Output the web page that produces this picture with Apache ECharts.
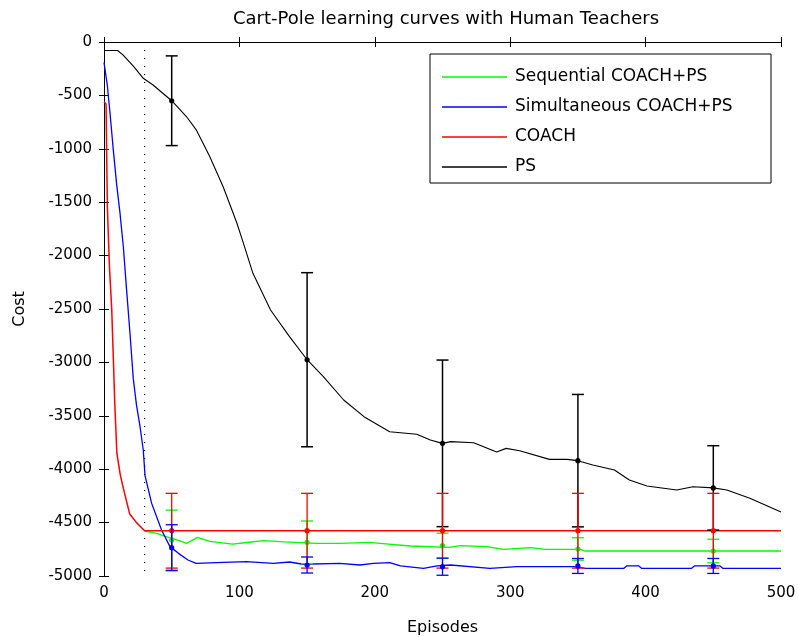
<!DOCTYPE html>
<html>
<head>
<meta charset="utf-8">
<script src="https://cdn.jsdelivr.net/npm/echarts@6/dist/echarts.min.js"></script>
<style>html,body{margin:0;padding:0;background:#fff;}#c{width:798px;height:637px;}</style>
</head>
<body>
<div id="c"></div>
<script>
const xTicks = [0, 100, 200, 300, 400, 500];
const yTicks = [-5000, -4500, -4000, -3500, -3000, -2500, -2000, -1500, -1000, -500, 0];

const psCurve = [[0,-80],[10,-80],[14,-120],[22,-230],[29,-340],[36,-400],[50,-550],[61,-700],[68,-820],[78,-1070],[88,-1355],[98,-1690],[103,-1885],[110,-2166],[123,-2509],[137,-2759],[150,-2975],[162,-3134],[177,-3352],[192,-3508],[211,-3649],[231,-3673],[241,-3727],[250,-3758],[256,-3742],[273,-3752],[290,-3840],[297,-3805],[307,-3827],[329,-3908],[342,-3908],[350,-3920],[361,-3960],[377,-4007],[388,-4101],[401,-4157],[423,-4195],[435,-4164],[450,-4175],[460,-4195],[477,-4272],[500,-4400]];

const coachCurve = [[0,-560],[1.5,-580],[2.5,-1550],[4,-2100],[5.7,-2500],[7,-3000],[8,-3400],[9.5,-3850],[12,-4050],[14.3,-4180],[19,-4420],[24,-4500],[30,-4576],[500,-4576]];

const simCurve = [[0,-190],[2.4,-400],[4.4,-660],[6.9,-1015],[9.4,-1340],[11.8,-1600],[14.3,-1920],[16.8,-2340],[19.2,-2730],[21.6,-3150],[24,-3400],[26.6,-3600],[29,-3820],[30.3,-4060],[35.2,-4320],[42.5,-4569],[48.7,-4725],[55,-4788],[62,-4850],[68,-4881],[83,-4875],[105,-4866],[125,-4881],[137,-4869],[147,-4890],[174,-4881],[189,-4897],[199,-4881],[211,-4875],[219,-4906],[236,-4928],[246,-4906],[256,-4897],[285,-4928],[305,-4913],[347,-4913],[356,-4928],[384,-4928],[386,-4906],[395,-4906],[397,-4928],[434,-4928],[436,-4906],[455,-4906],[457,-4928],[500,-4928]];

const seqCurve = [[30,-4579],[39,-4600],[44,-4625],[51,-4650],[56,-4672],[61,-4694],[69,-4638],[78,-4675],[95,-4702],[107,-4684],[118,-4669],[133,-4680],[157,-4694],[174,-4694],[196,-4685],[204,-4694],[226,-4719],[255,-4732],[263,-4716],[283,-4725],[295,-4750],[315,-4735],[326,-4750],[352,-4750],[355,-4766],[500,-4766]];

const errX = [50, 150, 250, 350, 450];
const psMean = [-550, -2975, -3758, -3920, -4175];
const psErr = [420, 815, 780, 620, 395];
const coachMean = [-4576, -4576, -4576, -4576, -4576];
const coachErr = [350, 350, 350, 350, 350];
const seqMean = [-4663, -4685, -4716, -4747, -4766];
const seqErr = [280, 200, 117, 105, 110];
const simMean = [-4735, -4897, -4913, -4906, -4906];
const simErr = [215, 75, 80, 70, 70];

const switchX = [30];

const names = ['Sequential COACH+PS', 'Simultaneous COACH+PS', 'COACH', 'PS'];
const colors = ['#00ff00', '#0000ff', '#ff0000', '#000000'];

const FONT = 'DejaVu Sans';

function errSeries(color, mean, err, z, lw) {
  return {
    type: 'custom',
    z: z,
    silent: true,
    renderItem: function (params, api) {
      const x = api.value(0), m = api.value(1), e = api.value(2);
      const t = api.coord([x, m + e]);
      const b = api.coord([x, m - e]);
      const c = api.coord([x, m]);
      const hw = 6;
      const st = { stroke: color, lineWidth: lw };
      return {
        type: 'group',
        children: [
          { type: 'line', shape: { x1: t[0], y1: t[1], x2: b[0], y2: b[1] }, style: st },
          { type: 'line', shape: { x1: t[0] - hw, y1: t[1], x2: t[0] + hw, y2: t[1] }, style: st },
          { type: 'line', shape: { x1: b[0] - hw, y1: b[1], x2: b[0] + hw, y2: b[1] }, style: st },
          { type: 'circle', shape: { cx: c[0], cy: c[1], r: 2.6 }, style: { fill: color } }
        ]
      };
    },
    data: errX.map((x, i) => [x, mean[i], err[i]])
  };
}

function lineSeries(name, color, data, z, w) {
  return {
    type: 'line', name: name, data: data, symbol: 'none', z: z,
    lineStyle: { color: color, width: w }, itemStyle: { color: color },
    animation: false
  };
}

const axisCommon = {
  axisLine: { show: true, lineStyle: { color: '#000', width: 1 } },
  axisTick: { show: true, inside: true, length: 5, lineStyle: { color: '#000' } },
  splitLine: { show: false }
};

const plain = v => String(v);

const chart = echarts.init(document.getElementById('c'), null, { renderer: 'canvas' });
chart.setOption({
  animation: false,
  backgroundColor: '#fff',
  title: {
    text: 'Cart-Pole learning curves with Human Teachers',
    left: 446, top: 10, textAlign: 'center', padding: 0,
    textStyle: { fontFamily: FONT, fontSize: 18, fontWeight: 'normal', color: '#000' }
  },
  grid: { left: 104, right: 17, top: 42, bottom: 61, outerBoundsMode: 'none', containLabel: false },
  legend: {
    data: names.map(n => ({ name: n, icon: 'rect' })),
    orient: 'vertical',
    left: 442, top: 67,
    padding: 0,
    itemWidth: 65, itemHeight: 1.3, itemGap: 10,
    textStyle: { fontFamily: FONT, fontSize: 17, color: '#000', padding: [0, 0, 0, 3], lineHeight: 20 },
    selectedMode: false
  },
  graphic: [{
    type: 'rect', shape: { x: 430, y: 54, width: 341, height: 129 },
    style: { fill: 'none', stroke: '#000', lineWidth: 1 }, z: 100
  }],
  xAxis: [
    Object.assign({
      type: 'value', min: 0, max: 500, interval: 100,
      name: 'Episodes', nameLocation: 'middle', nameGap: 44,
      nameTextStyle: { fontFamily: FONT, fontSize: 16, color: '#000' },
      axisLabel: { fontFamily: FONT, fontSize: 15, color: '#000', margin: 10, formatter: plain }
    }, axisCommon),
    Object.assign({
      type: 'value', min: 0, max: 500, interval: 100, position: 'top',
      axisLabel: { show: false }
    }, axisCommon)
  ],
  yAxis: [
    Object.assign({
      type: 'value', min: -5000, max: 0, interval: 500,
      name: 'Cost', nameLocation: 'middle', nameGap: 76, nameRotate: 90,
      nameTextStyle: { fontFamily: FONT, fontSize: 16, color: '#000' },
      axisLabel: { fontFamily: FONT, fontSize: 15, color: '#000', margin: 12, formatter: plain }
    }, axisCommon),
    Object.assign({
      type: 'value', min: -5000, max: 0, interval: 500, position: 'right',
      axisLabel: { show: false }
    }, axisCommon)
  ],
  series: [
    {
      type: 'line', name: 'switch', symbol: 'none', silent: true,
      data: [[switchX[0], 0], [switchX[0], -5000]],
      lineStyle: { color: '#000', width: 1.2, type: [1, 7] }, z: 1
    },
    lineSeries(names[3], colors[3], psCurve, 2, 1.1),
    lineSeries(names[0], colors[0], seqCurve, 3, 1.3),
    lineSeries(names[1], colors[1], simCurve, 4, 1.3),
    lineSeries(names[2], colors[2], coachCurve, 5, 1.5),
    errSeries('#000000', psMean, psErr, 6, 1.5),
    errSeries('#00ff00', seqMean, seqErr, 7, 1.3),
    errSeries('#ff0000', coachMean, coachErr, 8, 1.3),
    errSeries('#0000ff', simMean, simErr, 9, 1.3)
  ]
});
</script>
</body>
</html>
